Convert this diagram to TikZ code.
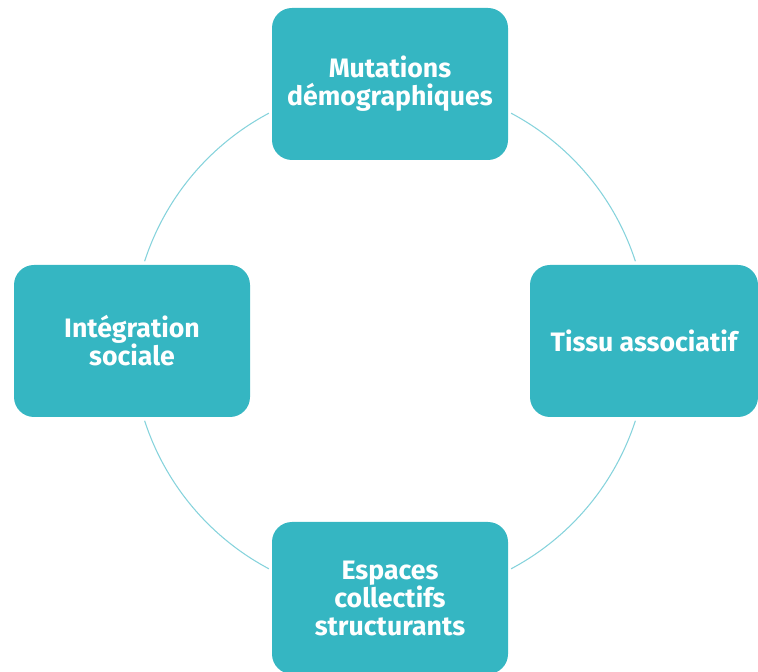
\documentclass[tikz,border=0pt]{standalone}
\usepackage{fontspec}
\setmainfont{Fira Sans}
\usepackage{xcolor}
\usepackage{tikz}
\usetikzlibrary{calc}
\usetikzlibrary{positioning}
\definecolor{boxteal}{HTML}{35B6C2}
\definecolor{arcteal}{HTML}{86D3DC}

\begin{document}
\begin{tikzpicture}[x=0.75pt, y=0.75pt,
  box/.style={rectangle, rounded corners=15pt, fill=boxteal, text=white, font=\fontsize{20}{21}\selectfont\bfseries, align=center, minimum width=177pt, minimum height=114pt, inner sep=0pt},
  link/.style={draw=arcteal, line width=0.8pt}]
\useasboundingbox (0, 0) rectangle (758, 672);
\node [box] (mut) at (390, 588) {Mutations\\démographiques};
\node [box, minimum width=171pt] (tissu) at (644, 331) {Tissu associatif};
\node [box] (esp) at (390, 74) {Espaces\\collectifs\\structurants};
\node [box] (integ) at (132, 331) {Intégration\\sociale};
\coordinate (o) at (390, 331);
\coordinate (a1) at ($(o)+(62:258)$);
\coordinate (a2) at ($(o)+(-18:258)$);
\coordinate (a3) at ($(o)+(-118:258)$);
\coordinate (a4) at ($(o)+(162:258)$);
\draw [link] (a1) arc [start angle=62, end angle=18, radius=258];
\draw [link] (a2) arc [start angle=-18, end angle=-62, radius=258];
\draw [link] (a3) arc [start angle=-118, end angle=-162, radius=258];
\draw [link] (a4) arc [start angle=162, end angle=118, radius=258];
\end{tikzpicture}
\end{document}
